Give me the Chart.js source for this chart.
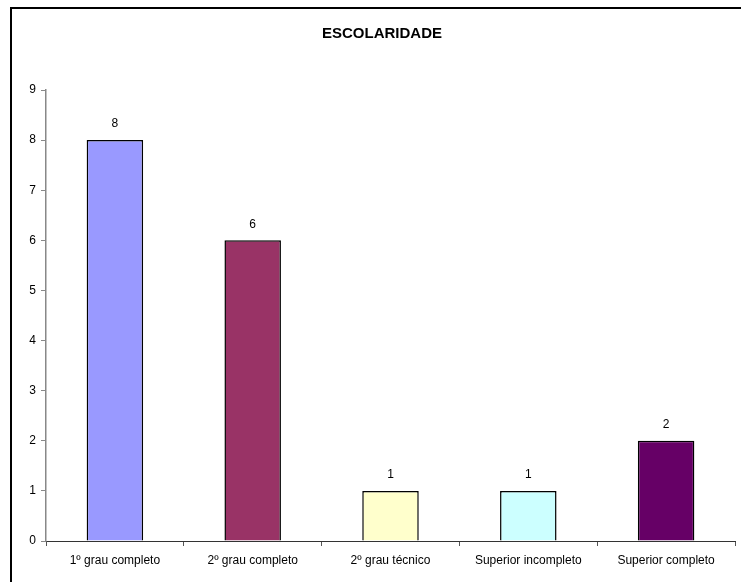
<!DOCTYPE html>
<html lang="pt">
<head>
    <meta charset="UTF-8">
    <title>Escolaridade</title>
    <script src="https://cdn.jsdelivr.net/npm/chart.js"></script>
    <style>
        html, body { margin: 0; padding: 0; background: #fff; overflow: hidden; }
        #chart { display: block; }
    </style>
</head>
<body>
    <canvas id="chart" width="741" height="582"></canvas>
    <script>
        const chartTitle = 'ESCOLARIDADE';
        const categories = ['1º grau completo', '2º grau completo', '2º grau técnico', 'Superior incompleto', 'Superior completo'];
        const counts = [8, 6, 1, 1, 2];
        const barColors = ['#9999FF', '#993366', '#FFFFCC', '#CCFFFF', '#660066'];
        const yTicks = [0, 1, 2, 3, 4, 5, 6, 7, 8, 9];

        const font = "'Liberation Sans', Arial, sans-serif";

        // outer frame (only top and left edges fall inside the canvas)
        const frame = {
            id: 'frame',
            beforeDraw(chart) {
                const ctx = chart.ctx;
                ctx.save();
                ctx.fillStyle = '#fff';
                ctx.fillRect(0, 0, chart.width, chart.height);
                ctx.strokeStyle = '#000';
                ctx.lineWidth = 2;
                ctx.beginPath();
                ctx.moveTo(11, chart.height + 5);
                ctx.lineTo(11, 8);
                ctx.lineTo(chart.width + 5, 8);
                ctx.stroke();
                ctx.restore();
            }
        };

        // title and value labels drawn on top of the chart
        const annotate = {
            id: 'annotate',
            afterDatasetsDraw(chart) {
                const ctx = chart.ctx;
                ctx.save();
                ctx.fillStyle = '#000';
                ctx.textAlign = 'center';
                ctx.textBaseline = 'middle';
                ctx.font = '12px ' + font;
                chart.getDatasetMeta(0).data.forEach((bar, i) => {
                    ctx.fillText(String(counts[i]), bar.x, bar.y - 16);
                });
                ctx.font = 'bold 15px ' + font;
                ctx.fillText(chartTitle, 382, 34);
                ctx.restore();
            }
        };

        new Chart(document.getElementById('chart').getContext('2d'), {
            type: 'bar',
            data: {
                labels: categories,
                datasets: [{
                    data: counts,
                    backgroundColor: barColors,
                    borderColor: '#000',
                    borderWidth: 1.5,
                    categoryPercentage: 1,
                    barPercentage: 0.41
                }]
            },
            options: {
                responsive: false,
                animation: false,
                layout: { padding: { top: 90, right: 6, left: 0, bottom: 0 } },
                plugins: {
                    legend: { display: false },
                    title: { display: false },
                    tooltip: { enabled: false }
                },
                scales: {
                    x: {
                        grid: { drawOnChartArea: false, drawTicks: true, tickLength: 5, color: '#555' },
                        border: { color: '#333', width: 1 },
                        ticks: { color: '#000', font: { family: font, size: 12 }, padding: 7, maxRotation: 0 },
                        afterFit(scale) { scale.height = 41; }
                    },
                    y: {
                        min: 0,
                        max: yTicks[yTicks.length - 1],
                        afterBuildTicks(scale) { scale.ticks = yTicks.map(v => ({ value: v })); },
                        grid: { drawOnChartArea: false, drawTicks: true, tickLength: 5, color: '#888' },
                        border: { color: '#888', width: 1.5 },
                        ticks: { color: '#000', font: { family: font, size: 12 }, padding: 5 },
                        afterFit(scale) { scale.width = 46; }
                    }
                }
            },
            plugins: [frame, annotate]
        });
    </script>
</body>
</html>
